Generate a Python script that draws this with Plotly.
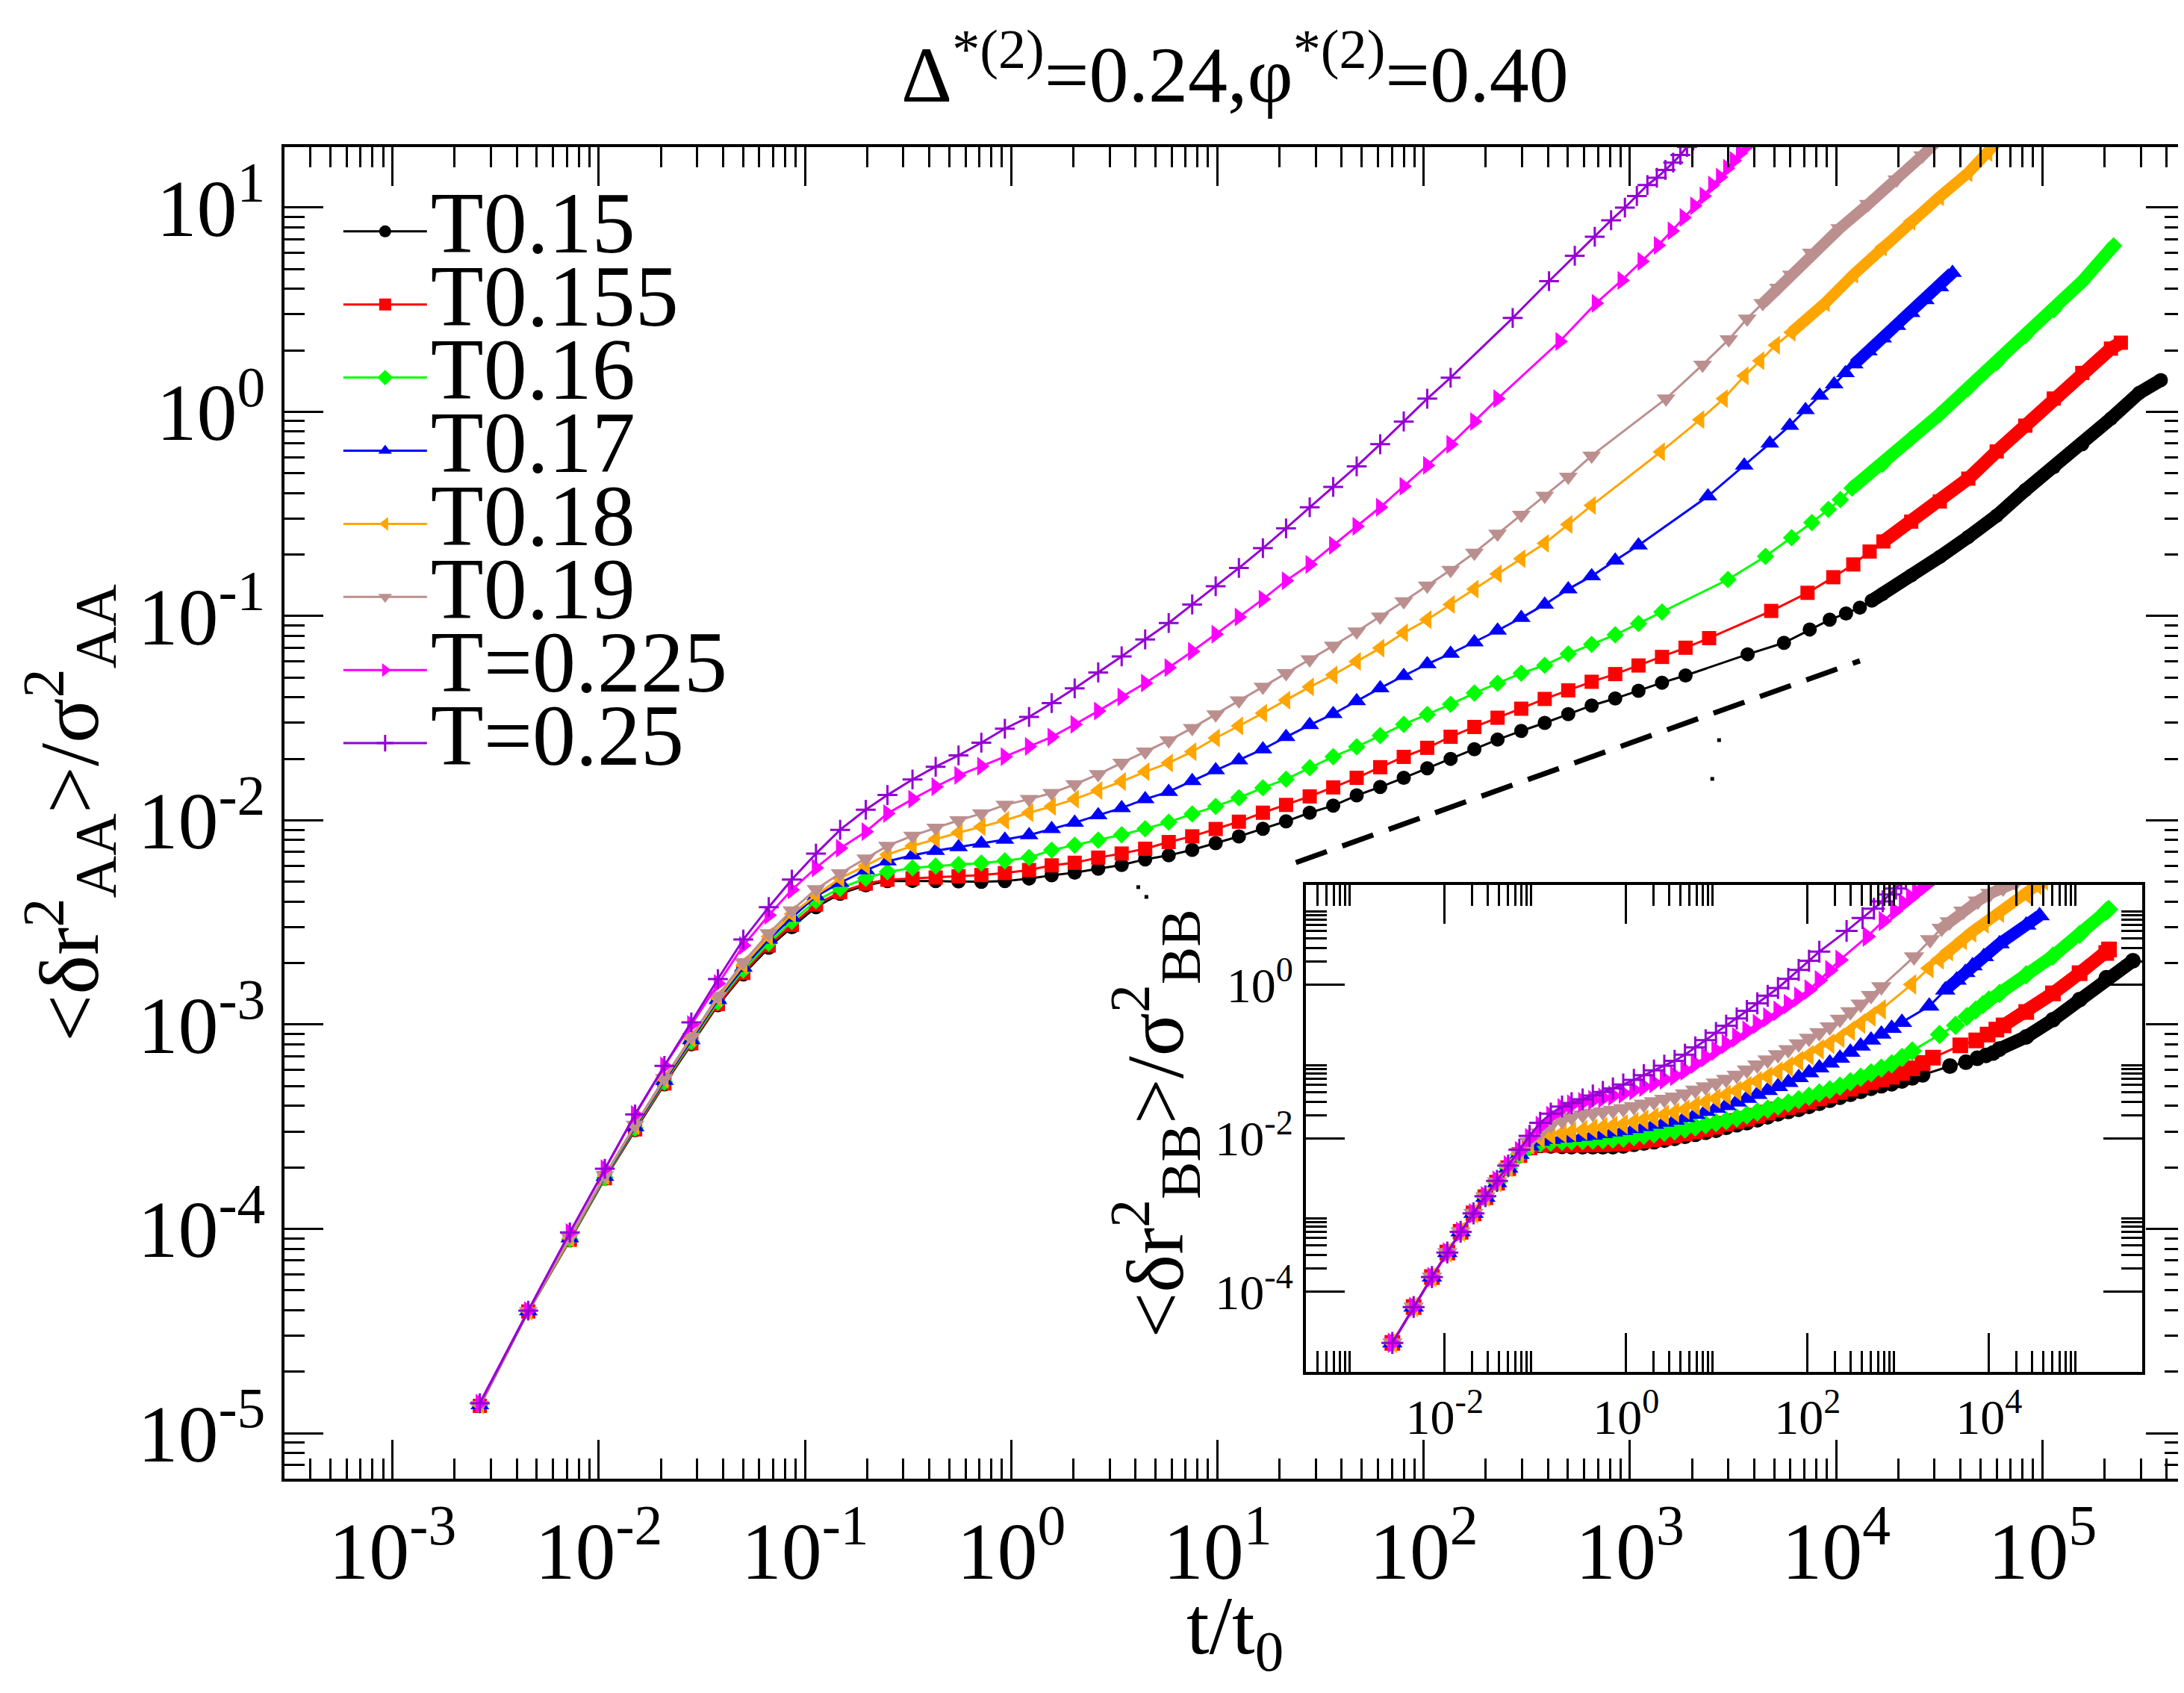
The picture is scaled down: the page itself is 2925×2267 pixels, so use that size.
import plotly.graph_objects as go

SERIF = "Liberation Serif"

# log-spaced sampling times t/t0
t_grid = [
    0.00265, 0.00455, 0.00724, 0.0107, 0.0150, 0.0208, 0.0281, 0.0378, 0.0502, 0.0667,
    0.0863, 0.113, 0.148, 0.197, 0.251, 0.332, 0.430, 0.555, 0.716, 0.931,
    1.22, 1.57, 2.03, 2.64, 3.43, 4.46, 5.80, 7.54, 9.80, 12.7,
    16.6, 21.5, 28.0, 36.4, 47.3, 61.5, 80.0, 104, 135, 176,
    228, 297, 386, 502, 652, 848, 1100, 1430, 1860, 2420,
]

# ---- main panel: <dr^2_AA>/sigma_AA^2 on t_grid, then the late (linear) samples
aa_015 = [
    1.36e-5, 3.94e-5, 8.8e-5, 1.76e-4, 3.04e-4, 5.1e-4, 8.0e-4, 1.245e-3, 1.76e-3, 2.38e-3,
    3.0e-3, 3.76e-3, 4.37e-3, 4.81e-3, 5.04e-3, 5.05e-3, 5.04e-3, 5.02e-3, 5.0e-3, 5.04e-3,
    5.19e-3, 5.38e-3, 5.55e-3, 5.8e-3, 6.05e-3, 6.44e-3, 6.74e-3, 7.17e-3, 7.74e-3, 8.34e-3,
    9.1e-3, 9.89e-3, 1.09e-2, 1.18e-2, 1.325e-2, 1.457e-2, 1.615e-2, 1.80e-2, 2.0e-2, 2.23e-2,
    2.485e-2, 2.74e-2, 3.0e-2, 3.31e-2, 3.65e-2, 3.95e-2, 4.31e-2, 4.72e-2, 5.12e-2,
]
tail_t_015 = [3720, 5580, 7440, 9300, 11160, 13020, 14880, 16740, 23100, 31800, 43700,
              60000, 82600, 113500, 156000, 214800, 295000, 375000]
tail_aa_015 = [0.065, 0.074, 0.086, 0.096, 0.103, 0.110, 0.119, 0.128, 0.158, 0.195, 0.244,
               0.310, 0.414, 0.536, 0.694, 0.927, 1.24, 1.43]

aa_0155 = [
    1.36e-5, 3.94e-5, 8.85e-5, 1.77e-4, 3.07e-4, 5.15e-4, 8.1e-4, 1.26e-3, 1.79e-3, 2.44e-3,
    3.08e-3, 3.87e-3, 4.45e-3, 4.9e-3, 5.12e-3, 5.2e-3, 5.25e-3, 5.32e-3, 5.4e-3, 5.52e-3,
    5.71e-3, 6.02e-3, 6.2e-3, 6.57e-3, 6.88e-3, 7.26e-3, 7.83e-3, 8.35e-3, 9.07e-3, 9.85e-3,
    1.09e-2, 1.19e-2, 1.31e-2, 1.45e-2, 1.615e-2, 1.82e-2, 2.045e-2, 2.265e-2, 2.565e-2, 2.865e-2,
    3.18e-2, 3.52e-2, 3.93e-2, 4.33e-2, 4.77e-2, 5.2e-2, 5.73e-2, 6.31e-2, 7.0e-2, 7.8e-2,
]
tail_t_0155 = [4840, 7260, 9680, 12100, 14520, 16940, 23100, 31800, 43700, 60000, 82600,
               113500, 156000, 214800, 240000]
tail_aa_0155 = [0.106, 0.130, 0.155, 0.179, 0.207, 0.232, 0.29, 0.364, 0.471, 0.640, 0.856,
                1.162, 1.55, 2.04, 2.18]

aa_016 = [
    1.37e-5, 3.95e-5, 8.9e-5, 1.78e-4, 3.11e-4, 5.23e-4, 8.24e-4, 1.29e-3, 1.85e-3, 2.51e-3,
    3.2e-3, 4.04e-3, 4.65e-3, 5.2e-3, 5.6e-3, 5.85e-3, 5.97e-3, 6.07e-3, 6.18e-3, 6.33e-3,
    6.58e-3, 7.15e-3, 7.56e-3, 8.0e-3, 8.5e-3, 9.1e-3, 9.8e-3, 1.075e-2, 1.17e-2, 1.29e-2,
    1.443e-2, 1.59e-2, 1.81e-2, 2.05e-2, 2.29e-2, 2.60e-2, 2.95e-2, 3.30e-2, 3.70e-2, 4.20e-2,
    4.69e-2, 5.25e-2, 5.74e-2, 6.53e-2, 7.27e-2, 8.1e-2, 9.2e-2, 0.1047,
]
tail_t_016 = [2985, 4540, 6080, 7620, 9160, 10470, 11940, 16790, 23070, 31770, 43650,
              59980, 82600, 113500, 156000, 221300]
tail_aa_016 = [0.151, 0.196, 0.242, 0.287, 0.333, 0.372, 0.423, 0.554, 0.740, 0.973, 1.30,
               1.74, 2.36, 3.16, 4.35, 6.5]

aa_017 = [
    1.37e-5, 3.95e-5, 9.0e-5, 1.80e-4, 3.15e-4, 5.31e-4, 8.4e-4, 1.32e-3, 1.90e-3, 2.61e-3,
    3.34e-3, 4.25e-3, 4.95e-3, 5.7e-3, 6.3e-3, 6.75e-3, 7.1e-3, 7.4e-3, 7.7e-3, 8.05e-3,
    8.47e-3, 9.08e-3, 9.74e-3, 1.06e-2, 1.15e-2, 1.27e-2, 1.38e-2, 1.56e-2, 1.76e-2, 1.97e-2,
    2.23e-2, 2.56e-2, 2.93e-2, 3.32e-2, 3.84e-2, 4.44e-2, 5.1e-2, 5.82e-2, 6.55e-2, 7.45e-2,
    8.5e-2, 9.8e-2, 0.114, 0.1355, 0.157, 0.187, 0.222,
]
tail_t_017 = [2388, 3581, 4764, 5957, 7096, 8318, 9772, 11090, 12220, 14320, 16790,
              19680, 23070, 27040, 31770, 36640]
tail_aa_017 = [0.386, 0.546, 0.70, 0.856, 1.02, 1.20, 1.365, 1.55, 1.71, 1.98, 2.29,
               2.64, 3.05, 3.53, 4.08, 4.8]

aa_018 = [
    1.37e-5, 3.95e-5, 9.0e-5, 1.82e-4, 3.2e-4, 5.4e-4, 8.6e-4, 1.35e-3, 1.96e-3, 2.70e-3,
    3.48e-3, 4.3e-3, 5.2e-3, 6.0e-3, 6.8e-3, 7.5e-3, 8.1e-3, 8.7e-3, 9.3e-3, 1.0e-2,
    1.09e-2, 1.17e-2, 1.27e-2, 1.40e-2, 1.55e-2, 1.73e-2, 1.91e-2, 2.17e-2, 2.53e-2, 2.90e-2,
    3.35e-2, 3.88e-2, 4.5e-2, 5.15e-2, 6.0e-2, 6.97e-2, 8.28e-2, 9.6e-2, 0.114, 0.1355,
    0.161, 0.191, 0.227, 0.281, 0.348,
]
tail_t_018 = [1410, 2188, 2844, 3589, 4276, 5093, 6067, 8872, 12190, 16790, 23070,
              31770, 43650, 54580, 63100]
tail_aa_018 = [0.637, 0.916, 1.16, 1.50, 1.78, 2.12, 2.45, 3.42, 4.72, 6.41, 8.57,
               11.3, 14.8, 18.6, 22.0]

aa_019 = [
    1.37e-5, 3.95e-5, 9.1e-5, 1.83e-4, 3.23e-4, 5.47e-4, 8.7e-4, 1.38e-3, 2.02e-3, 2.80e-3,
    3.62e-3, 4.6e-3, 5.5e-3, 6.5e-3, 7.5e-3, 8.4e-3, 9.2e-3, 1.0e-2, 1.08e-2, 1.19e-2,
    1.27e-2, 1.36e-2, 1.50e-2, 1.68e-2, 1.91e-2, 2.17e-2, 2.46e-2, 2.83e-2, 3.30e-2, 3.86e-2,
    4.5e-2, 5.25e-2, 6.13e-2, 7.15e-2, 8.4e-2, 9.94e-2, 0.118, 0.141, 0.168, 0.204,
    0.253, 0.313, 0.388, 0.481, 0.610,
]
tail_t_019 = [1496, 2250, 3013, 3700, 4406, 5250, 6067, 7568, 10400, 14320, 19680, 26240, 31600]
tail_aa_019 = [1.16, 1.70, 2.26, 2.86, 3.40, 4.04, 4.69, 6.01, 7.91, 10.4, 13.7, 18.0, 21.7]

aa_0225 = [
    1.40e-5, 3.98e-5, 9.6e-5, 1.97e-4, 3.63e-4, 6.28e-4, 1.0e-3, 1.59e-3, 2.44e-3, 3.43e-3,
    4.57e-3, 5.85e-3, 7.3e-3, 8.8e-3, 1.08e-2, 1.27e-2, 1.46e-2, 1.66e-2, 1.84e-2, 2.05e-2,
    2.3e-2, 2.56e-2, 2.95e-2, 3.43e-2, 4.02e-2, 4.7e-2, 5.59e-2, 6.72e-2, 8.15e-2, 9.9e-2,
    0.121, 0.149, 0.179, 0.222, 0.275, 0.341, 0.432, 0.547, 0.693, 0.897,
    1.16,
]
tail_t_0225 = [456, 684, 912, 1140, 1368, 1596, 1824, 2052, 2280, 2508, 2736, 2964, 3192,
               3420, 3648, 3876]
tail_aa_0225 = [2.21, 3.40, 4.40, 5.45, 6.53, 7.69, 8.94, 10.2, 11.4, 12.9, 14.1, 15.6, 17.0,
                18.5, 19.8, 21.0]

aa_025 = [
    1.40e-5, 3.98e-5, 9.6e-5, 1.97e-4, 3.63e-4, 6.28e-4, 1.026e-3, 1.67e-3, 2.61e-3, 3.76e-3,
    5.13e-3, 6.87e-3, 8.99e-3, 1.127e-2, 1.33e-2, 1.585e-2, 1.83e-2, 2.08e-2, 2.40e-2, 2.81e-2,
    3.21e-2, 3.75e-2, 4.43e-2, 5.3e-2, 6.35e-2, 7.69e-2, 9.25e-2, 0.114, 0.140, 0.172,
    0.215, 0.269, 0.341, 0.429, 0.541, 0.694, 0.897, 1.16, 1.47,
]
tail_t_025 = [270, 405, 540, 675, 810, 945, 1080, 1215, 1350, 1485, 1620, 1755, 1890, 2025]
tail_aa_025 = [2.88, 4.36, 5.81, 7.2, 8.67, 10.0, 11.4, 12.9, 14.0, 15.3, 16.6, 18.1, 19.8, 21.3]

# ---- inset: <dr^2_BB>/sigma_BB^2
bb_015 = [
    2.15e-5, 6.31e-5, 1.55e-4, 3.24e-4, 6.03e-4, 1.047e-3, 1.70e-3, 2.63e-3, 4.07e-3, 5.96e-3,
    7.50e-3, 8.04e-3, 7.94e-3, 7.85e-3, 7.76e-3, 7.76e-3, 7.73e-3, 7.73e-3, 7.76e-3, 7.94e-3,
    8.32e-3, 8.65e-3, 8.99e-3, 9.44e-3, 9.98e-3, 1.059e-2, 1.127e-2, 1.197e-2, 1.271e-2, 1.387e-2,
    1.50e-2, 1.592e-2, 1.738e-2, 1.90e-2, 2.08e-2, 2.23e-2, 2.38e-2, 2.60e-2, 2.85e-2, 3.12e-2,
    3.42e-2, 3.74e-2, 4.09e-2, 4.48e-2, 4.83e-2, 5.12e-2, 5.57e-2, 6.11e-2, 6.68e-2,
]
tail_t_bb_015 = [3720, 5580, 7440, 9300, 11160, 13020, 25800, 50800, 100000, 197000, 387000]
tail_bb_015 = [0.087, 0.0977, 0.110, 0.120, 0.129, 0.145, 0.209, 0.349, 0.640, 1.23, 2.05]

bb_0155 = [
    2.15e-5, 6.31e-5, 1.55e-4, 3.24e-4, 6.03e-4, 1.047e-3, 1.70e-3, 2.63e-3, 4.07e-3, 6.03e-3,
    7.59e-3, 8.22e-3, 8.22e-3, 8.22e-3, 8.22e-3, 8.26e-3, 8.32e-3, 8.36e-3, 8.43e-3, 8.55e-3,
    8.91e-3, 9.31e-3, 9.73e-3, 1.023e-2, 1.084e-2, 1.153e-2, 1.23e-2, 1.312e-2, 1.406e-2, 1.542e-2,
    1.675e-2, 1.786e-2, 1.959e-2, 2.153e-2, 2.366e-2, 2.547e-2, 2.73e-2, 3.0e-2, 3.30e-2, 3.63e-2,
    4.0e-2, 4.41e-2, 4.85e-2, 5.37e-2, 5.86e-2, 6.31e-2, 7.08e-2, 8.13e-2, 9.55e-2, 0.112,
]
tail_t_bb_0155 = [4840, 7260, 9680, 12100, 14520, 25800, 50800, 100000, 197000, 211000]
tail_bb_0155 = [0.162, 0.188, 0.224, 0.260, 0.295, 0.441, 0.771, 1.413, 2.59, 2.88]

bb_016 = [
    2.15e-5, 6.31e-5, 1.55e-4, 3.24e-4, 6.03e-4, 1.047e-3, 1.70e-3, 2.63e-3, 4.07e-3, 6.10e-3,
    7.76e-3, 8.61e-3, 8.91e-3, 9.12e-3, 9.23e-3, 9.33e-3, 9.44e-3, 9.55e-3, 9.73e-3, 1.0e-2,
    1.045e-2, 1.091e-2, 1.14e-2, 1.194e-2, 1.247e-2, 1.318e-2, 1.406e-2, 1.50e-2, 1.596e-2, 1.70e-2,
    1.832e-2, 2.004e-2, 2.193e-2, 2.40e-2, 2.624e-2, 2.877e-2, 3.177e-2, 3.516e-2, 3.88e-2, 4.285e-2,
    4.75e-2, 5.445e-2, 6.237e-2, 7.13e-2, 8.166e-2, 9.31e-2, 0.1125, 0.1374,
]
tail_t_bb_016 = [2860, 4290, 5720, 7150, 8580, 10010, 13100, 25800, 50800, 100000, 197000, 209000]
tail_bb_016 = [0.224, 0.296, 0.385, 0.468, 0.550, 0.631, 0.771, 1.349, 2.355, 4.53, 9.12, 9.55]

bb_017 = [
    2.15e-5, 6.31e-5, 1.55e-4, 3.24e-4, 6.03e-4, 1.047e-3, 1.70e-3, 2.63e-3, 4.07e-3, 6.17e-3,
    7.94e-3, 9.12e-3, 9.66e-3, 1.0e-2, 1.023e-2, 1.059e-2, 1.096e-2, 1.148e-2, 1.202e-2, 1.259e-2,
    1.334e-2, 1.419e-2, 1.514e-2, 1.614e-2, 1.718e-2, 1.858e-2, 2.037e-2, 2.234e-2, 2.449e-2, 2.661e-2,
    2.951e-2, 3.311e-2, 3.724e-2, 4.188e-2, 4.71e-2, 5.33e-2, 6.166e-2, 7.129e-2, 8.222e-2, 9.506e-2,
    0.1102, 0.1318, 0.1585, 0.1897, 0.227, 0.2704, 0.3236,
]
tail_t_bb_017 = [2200, 3300, 4400, 5500, 6600, 8800, 13100, 25800, 36200]
tail_bb_017 = [0.525, 0.851, 1.148, 1.445, 1.758, 2.317, 3.42, 5.98, 7.93]

bb_018 = [
    2.15e-5, 6.31e-5, 1.55e-4, 3.24e-4, 6.03e-4, 1.047e-3, 1.72e-3, 2.68e-3, 4.2e-3, 6.31e-3,
    8.32e-3, 1.0e-2, 1.096e-2, 1.161e-2, 1.211e-2, 1.271e-2, 1.327e-2, 1.387e-2, 1.449e-2, 1.517e-2,
    1.618e-2, 1.738e-2, 1.866e-2, 2.009e-2, 2.158e-2, 2.36e-2, 2.642e-2, 2.944e-2, 3.281e-2, 3.656e-2,
    4.13e-2, 4.775e-2, 5.521e-2, 6.368e-2, 7.362e-2, 8.57e-2, 0.1016, 0.1208, 0.1435, 0.1702,
    0.2028, 0.2512, 0.3112, 0.3855, 0.4775,
]
tail_t_bb_018 = [1410, 2188, 2844, 3589, 5093, 6457, 8872, 13100, 25800, 33900, 40000]
tail_bb_018 = [1.009, 1.641, 2.138, 2.735, 3.837, 4.82, 6.31, 8.69, 15.2, 20.1, 22.9]

bb_019 = [
    2.15e-5, 6.31e-5, 1.55e-4, 3.24e-4, 6.03e-4, 1.047e-3, 1.72e-3, 2.68e-3, 4.2e-3, 6.46e-3,
    8.91e-3, 1.175e-2, 1.479e-2, 1.698e-2, 1.875e-2, 2.018e-2, 2.113e-2, 2.213e-2, 2.312e-2, 2.421e-2,
    2.582e-2, 2.773e-2, 2.979e-2, 3.206e-2, 3.443e-2, 3.776e-2, 4.217e-2, 4.688e-2, 5.224e-2, 5.834e-2,
    6.622e-2, 7.727e-2, 9.016e-2, 0.105, 0.1222, 0.1429, 0.1694, 0.2004, 0.2377, 0.2831,
    0.3556, 0.4446, 0.5585, 0.7244, 0.9397,
]
tail_t_bb_019 = [1496, 2250, 3013, 3700, 5250, 7568, 10400, 14320, 19680]
tail_bb_019 = [2.312, 3.855, 5.433, 6.607, 9.12, 12.3, 15.5, 18.2, 21.4]

bb_0225 = [
    2.15e-5, 6.31e-5, 1.55e-4, 3.24e-4, 6.03e-4, 1.047e-3, 1.75e-3, 2.78e-3, 4.4e-3, 6.76e-3,
    1.0e-2, 1.445e-2, 1.95e-2, 2.455e-2, 2.735e-2, 2.938e-2, 3.141e-2, 3.35e-2, 3.581e-2, 3.828e-2,
    4.227e-2, 4.699e-2, 5.236e-2, 5.834e-2, 6.501e-2, 7.621e-2, 9.311e-2, 0.1135, 0.1384, 0.169,
    0.2061, 0.2512, 0.3069, 0.3741, 0.456, 0.5585, 0.695, 0.863, 1.138, 1.545,
    2.099,
]
tail_t_bb_0225 = [456, 684, 912, 1140, 1368, 1596, 1824, 2052, 2280, 2508]
tail_bb_0225 = [4.246, 6.761, 9.12, 11.48, 13.65, 15.85, 17.99, 20.18, 22.4, 24.5]

bb_025 = [
    2.15e-5, 6.31e-5, 1.55e-4, 3.24e-4, 6.03e-4, 1.047e-3, 1.75e-3, 2.78e-3, 4.4e-3, 7.08e-3,
    1.072e-2, 1.585e-2, 2.089e-2, 2.588e-2, 2.864e-2, 3.206e-2, 3.589e-2, 3.999e-2, 4.457e-2, 5.012e-2,
    5.754e-2, 6.607e-2, 7.638e-2, 8.81e-2, 0.1019, 0.1227, 0.1524, 0.1892, 0.2355, 0.2924,
    0.3631, 0.456, 0.5715, 0.7178, 0.9057, 1.191, 1.56, 2.051, 2.692,
]
tail_t_bb_025 = [270, 405, 540, 675, 810, 945, 1080, 1215]
tail_bb_025 = [5.012, 7.38, 9.77, 12.2, 15.0, 17.9, 20.9, 24.0]

# dashed guide line and the few stray dots
guide_t = [24.0, 13030]
guide_y = [6.21e-3, 6.04e-2]
stray_t = [2704, 2506, 4.13, 4.52]
stray_y = [0.0247, 0.01596, 4.71e-3, 4.22e-3]

# ticks
x_major = [1e-3, 1e-2, 1e-1, 1e0, 1e1, 1e2, 1e3, 1e4, 1e5]
x_major_text = ["10<sup>-3</sup>", "10<sup>-2</sup>", "10<sup>-1</sup>", "10<sup>0</sup>",
                "10<sup>1</sup>", "10<sup>2</sup>", "10<sup>3</sup>", "10<sup>4</sup>",
                "10<sup>5</sup>"]
y_major = [1e-5, 1e-4, 1e-3, 1e-2, 1e-1, 1e0, 1e1]
y_major_text = ["10<sup>-5</sup>", "10<sup>-4</sup>", "10<sup>-3</sup>", "10<sup>-2</sup>",
                "10<sup>-1</sup>", "10<sup>0</sup>", "10<sup>1</sup>"]
ix_major = [1e-2, 1e0, 1e2, 1e4]
ix_major_text = ["10<sup>-2</sup>", "10<sup>0</sup>", "10<sup>2</sup>", "10<sup>4</sup>"]
iy_major = [1e-4, 1e-2, 1e0]
iy_major_text = ["10<sup>-4</sup>", "10<sup>-2</sup>", "10<sup>0</sup>"]

x_minor = [k * 10.0 ** e for e in range(-4, 6) for k in range(2, 10)]
y_minor = [k * 10.0 ** e for e in range(-6, 2) for k in range(2, 10)]
ix_minor = [k * 10.0 ** e for e in (-4, -2, 0, 2, 4) for k in range(2, 10)]
iy_minor = [k * 10.0 ** e for e in (-4, -2, 0) for k in range(2, 10)]

# label, colour, symbol, marker size, band width, main data, inset data, band starts
curves = [
    ("T0.15", "#000000", "circle", 19, 18, aa_015, tail_t_015, tail_aa_015, 6,
     bb_015, tail_t_bb_015, tail_bb_015, 5),
    ("T0.155", "#FF0000", "square", 19, 18, aa_0155, tail_t_0155, tail_aa_0155, 5,
     bb_0155, tail_t_bb_0155, tail_bb_0155, 4),
    ("T0.16", "#00FF00", "diamond", 18, 17, aa_016, tail_t_016, tail_aa_016, 6,
     bb_016, tail_t_bb_016, tail_bb_016, 4),
    ("T0.17", "#0000FF", "triangle-up", 22, 16, aa_017, tail_t_017, tail_aa_017, 8,
     bb_017, tail_t_bb_017, tail_bb_017, 1),
    ("T0.18", "#FFA500", "triangle-left", 22, 15, aa_018, tail_t_018, tail_aa_018, 6,
     bb_018, tail_t_bb_018, tail_bb_018, 2),
    ("T0.19", "#BC8F8F", "triangle-down", 22, 15, aa_019, tail_t_019, tail_aa_019, 4,
     bb_019, tail_t_bb_019, tail_bb_019, 2),
    ("T=0.225", "#FF00FF", "triangle-right", 22, 15, aa_0225, tail_t_0225, tail_aa_0225, None,
     bb_0225, tail_t_bb_0225, tail_bb_0225, None),
    ("T=0.25", "#9400D3", "cross-thin", 19, 3, aa_025, tail_t_025, tail_aa_025, None,
     bb_025, tail_t_bb_025, tail_bb_025, None),
]

fig = go.Figure()


def add_curve(head, t_tail, y_tail, band_from, xa, ya, name, color, symbol, size, band_w,
              legend):
    marker = dict(symbol=symbol, size=size, color=color)
    if symbol == "cross-thin":
        marker["line"] = dict(width=3, color=color)
    fig.add_trace(go.Scatter(
        x=t_grid[:len(head)] + t_tail, y=head + y_tail,
        mode="lines+markers", name=name, showlegend=legend,
        line=dict(color=color, width=3), marker=marker,
        xaxis=xa, yaxis=ya))
    # late-time points are so dense they merge into a thick band
    if band_from is not None:
        fig.add_trace(go.Scatter(
            x=t_tail[band_from:], y=y_tail[band_from:], mode="lines",
            line=dict(color=color, width=band_w), showlegend=False,
            hoverinfo="skip", xaxis=xa, yaxis=ya))


for (label, color, symbol, size, band_w, aa, tt, ta, band,
     bb, tbt, tb, band_bb) in curves:
    add_curve(aa, tt, ta, band, "x", "y",
              '<span style="font-size:116px">%s</span>' % label,
              color, symbol, size, band_w, True)

fig.add_trace(go.Scatter(x=guide_t, y=guide_y, mode="lines", showlegend=False,
                         line=dict(color="black", width=7, dash="44px,22px"),
                         xaxis="x", yaxis="y"))
fig.add_trace(go.Scatter(x=stray_t, y=stray_y, mode="markers", showlegend=False,
                         marker=dict(symbol="square", size=5, color="black"),
                         xaxis="x", yaxis="y"))

# the inset symbols overlap into heavier ribbons
for (label, color, symbol, size, band_w, aa, tt, ta, band,
     bb, tbt, tb, band_bb) in curves:
    add_curve(bb, tbt, tb, band_bb, "x2", "y2", label, color, symbol,
              round(size * 1.1), band_w, False)

axis_style = dict(type="log", showline=True, linecolor="black", linewidth=4,
                  mirror="ticks", ticks="inside", tickcolor="black", tickwidth=3,
                  showgrid=False, zeroline=False, tickmode="array")


def minor_ticks(vals, length):
    return dict(tickmode="array", tickvals=vals, ticks="inside", ticklen=length,
                tickwidth=3, tickcolor="black", showgrid=False)


fig.update_layout(
    width=2925, height=2267, autosize=False,
    margin=dict(l=373, r=3, t=189, b=295),
    paper_bgcolor="white", plot_bgcolor="white",
    xaxis=dict(axis_style, range=[-3.524, 5.69], domain=[0, 1], anchor="y",
               tickvals=x_major, ticktext=x_major_text, ticklen=52,
               tickfont=dict(family=SERIF, size=108, color="black"),
               minor=minor_ticks(x_minor, 27)),
    yaxis=dict(axis_style, range=[-5.223, 1.296], domain=[0, 1], anchor="x",
               tickvals=y_major, ticktext=y_major_text, ticklen=52,
               tickfont=dict(family=SERIF, size=108, color="black"),
               minor=minor_ticks(y_minor, 27)),
    xaxis2=dict(axis_style, range=[-3.53, 5.69], domain=[0.5375, 0.9776], anchor="y2",
                tickvals=ix_major, ticktext=ix_major_text, ticklen=52,
                tickfont=dict(family=SERIF, size=66, color="black"),
                minor=minor_ticks(ix_minor, 28)),
    yaxis2=dict(axis_style, range=[-5.045, 1.30], domain=[0.0802, 0.4459], anchor="x2",
                tickvals=iy_major, ticktext=iy_major_text, ticklen=52,
                tickfont=dict(family=SERIF, size=66, color="black"),
                minor=minor_ticks(iy_minor, 28)),
    legend=dict(x=0.029, y=0.967, xanchor="left", yanchor="top",
                bgcolor="rgba(0,0,0,0)", borderwidth=0, itemwidth=112,
                font=dict(family=SERIF, size=73, color="black")),
    annotations=[
        dict(text="Δ<sup>*(2)</sup>=0.24,φ<sup>*(2)</sup>=0.40", xref="paper", yref="paper",
             x=0.5, y=1.059, xanchor="center", yanchor="middle", showarrow=False,
             font=dict(family=SERIF, size=106, color="black")),
        dict(text="t/t<sub>0</sub>", xref="paper", yref="paper",
             x=0.5, y=-0.115, xanchor="center", yanchor="middle", showarrow=False,
             font=dict(family=SERIF, size=110, color="black")),
        dict(text="&lt;δr<sup>2</sup><sub>AA</sub>&gt;/σ<sup>2</sup><sub>AA</sub>",
             xref="paper", yref="paper", x=-0.1134, y=0.5, textangle=-90,
             xanchor="center", yanchor="middle", showarrow=False,
             font=dict(family=SERIF, size=112, color="black")),
        dict(text="&lt;δr<sup>2</sup><sub>BB</sub>&gt;/σ<sup>2</sup><sub>BB</sub>",
             xref="paper", yref="paper", x=0.458, y=0.2664, textangle=-90,
             xanchor="center", yanchor="middle", showarrow=False,
             font=dict(family=SERIF, size=108, color="black")),
    ],
)

fig.write_html("out.html")
